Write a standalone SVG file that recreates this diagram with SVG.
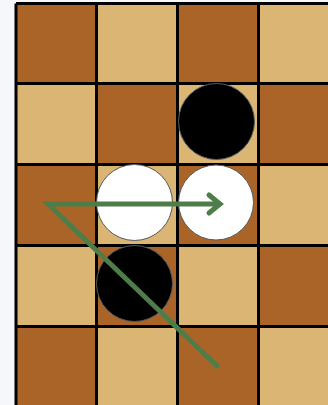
<svg xmlns="http://www.w3.org/2000/svg" width="328" height="405" viewBox="0 0 328 405">
<style>
.d{fill:#AB6428}
.l{fill:#DBB574}
.grid{stroke:#000;stroke-width:3;fill:none}
.b{fill:#000;stroke:#555a60;stroke-width:1}
.w{fill:#fff;stroke:#555a60;stroke-width:1}
.arr{stroke:#4E7D4A;stroke-width:5;fill:none;stroke-linecap:round;stroke-linejoin:miter}
</style>
<rect x="0" y="0" width="328" height="405" fill="#f5f7fa"/>
<g id="board">
<rect x="16" y="3.5" width="324" height="404" class="l"/>
<rect x="16" y="3.5" width="80.5" height="80" class="d"/>
<rect x="177.5" y="3.5" width="81" height="80" class="d"/>
<rect x="96.5" y="83.5" width="81" height="81" class="d"/>
<rect x="258.5" y="83.5" width="81" height="81" class="d"/>
<rect x="16" y="164.5" width="80.5" height="81" class="d"/>
<rect x="177.5" y="164.5" width="81" height="81" class="d"/>
<rect x="96.5" y="245.5" width="81" height="81" class="d"/>
<rect x="258.5" y="245.5" width="81" height="81" class="d"/>
<rect x="16" y="326.5" width="80.5" height="81" class="d"/>
<rect x="177.5" y="326.5" width="81" height="81" class="d"/>
<path class="grid" d="M16 3.5V410M96.5 3.5V410M177.5 3.5V410M258.5 3.5V410M16 3.5H340M16 83.5H340M16 164.5H340M16 245.5H340M16 326.5H340"/>
</g>
<g id="stone-black-1"><circle class="b" cx="216.5" cy="121.5" r="38"/></g>
<g id="stone-white-1"><circle class="w" cx="134.5" cy="202.5" r="38"/></g>
<g id="stone-white-2"><circle class="w" cx="216" cy="202.5" r="37.5"/></g>
<g id="stone-black-2"><circle class="b" cx="134.5" cy="283.5" r="38"/></g>
<g id="connectors">
<polyline class="arr" points="217,366 48,204 219,204"/>
<polyline class="arr" points="209,195 220,204 209,213" stroke-linejoin="miter"/>
</g>
</svg>
